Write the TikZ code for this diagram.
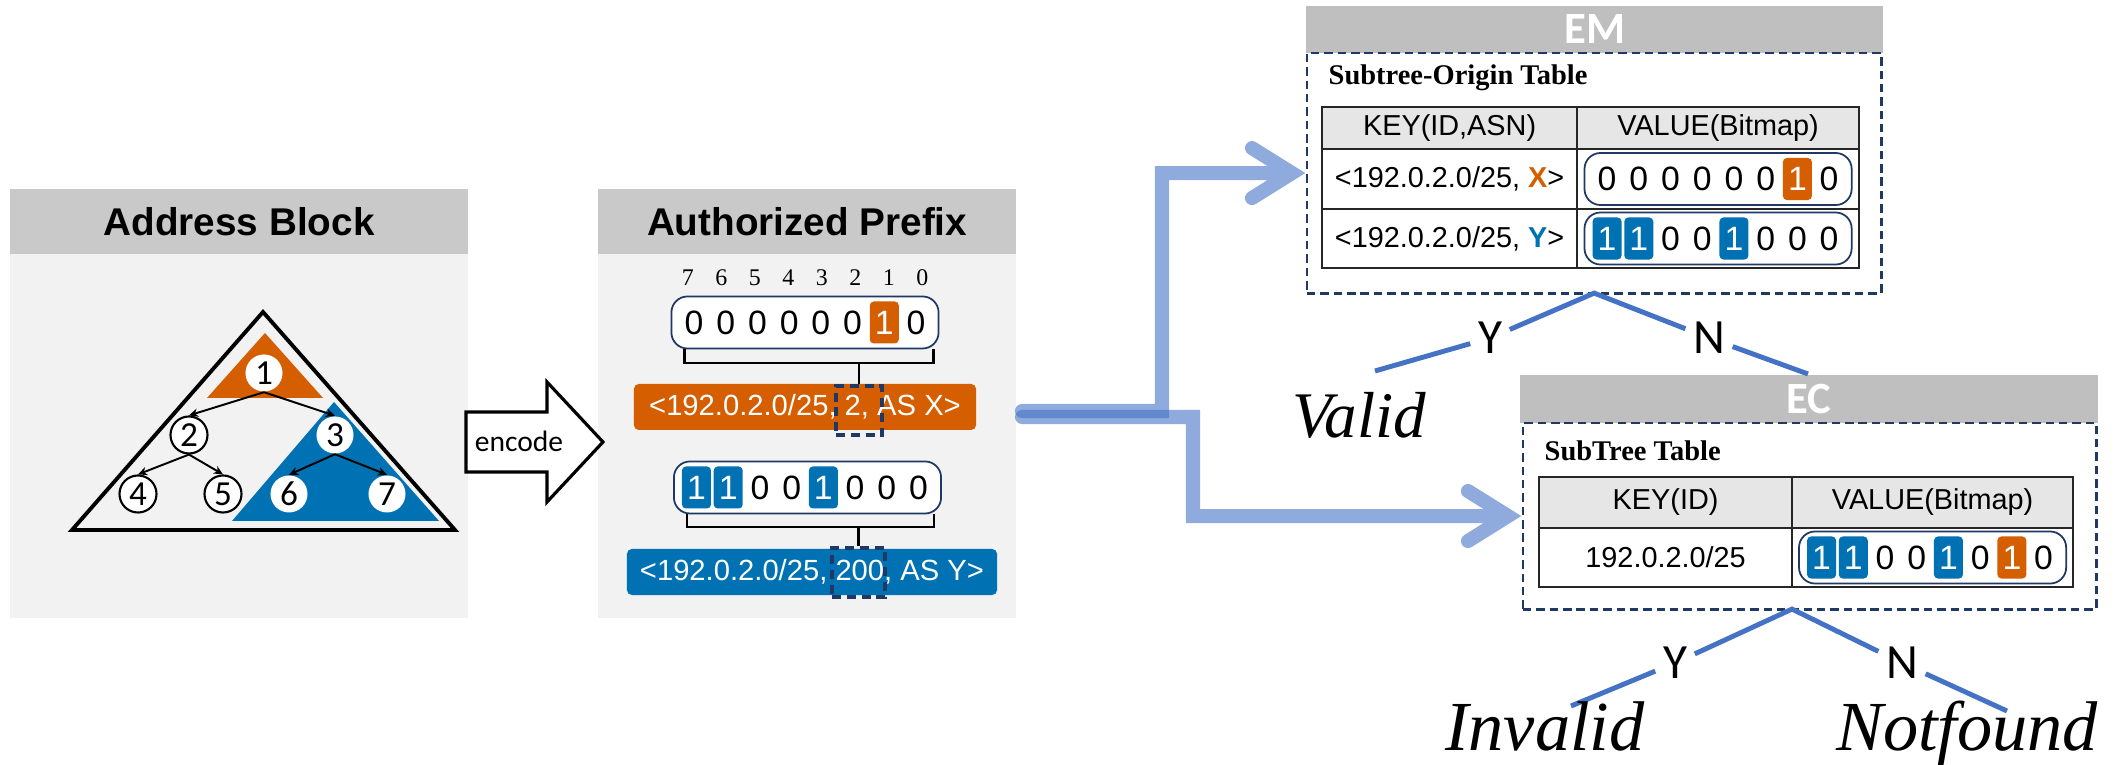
\documentclass[tikz,border=0pt]{standalone}
\usepackage{fontspec}
\setmainfont{Liberation Sans}
\newfontfamily\calfont{Carlito}
\newfontfamily\serfont{Liberation Serif}
\usetikzlibrary{arrows.meta}

\definecolor{vermil}{HTML}{D55E00}
\definecolor{ocean}{HTML}{0071B2}
\definecolor{navy}{HTML}{1F3864}
\definecolor{linkblue}{HTML}{4472C4}
\definecolor{panelgray}{HTML}{F2F2F2}
\definecolor{headgray}{HTML}{C9C9C9}
\definecolor{boxgray}{HTML}{BFBFBF}
\definecolor{cellgray}{HTML}{E6E6E6}

\tikzset{
    panel/.style={fill=panelgray, anchor=north west, inner sep=0pt, outer sep=0pt},
    panelhead/.style={fill=headgray, anchor=north west, inner sep=0pt, outer sep=0pt, font=\bfseries\fontsize{11}{13}\selectfont},
    tablehead/.style={fill=boxgray, anchor=north west, inner sep=0pt, outer sep=0pt, text=white, font=\calfont\bfseries\fontsize{12.7}{14}\selectfont},
    dashbox/.style={draw=navy, line width=0.8pt, dash pattern=on 2.4pt off 1.4pt, anchor=north west, inner sep=0pt, outer sep=0pt},
    tabletitle/.style={anchor=west, inner sep=0pt, font=\serfont\bfseries\fontsize{8.1}{10}\selectfont},
    cell/.style={draw=black!85, line width=0.6pt, anchor=north west, inner sep=0pt, outer sep=0pt, font=\fontsize{8.2}{10}\selectfont},
    headcell/.style={cell, fill=cellgray},
    tnode/.style={circle, fill=white, minimum size=0.37cm, inner sep=0pt, font=\calfont\fontsize{10}{12}\selectfont},
    tnodeb/.style={tnode, draw, line width=0.6pt},
    tedge/.style={-{Stealth[length=2.6pt, width=2.4pt]}, line width=0.55pt},
    bitbox/.style={draw=navy, line width=0.5pt, fill=white, rounded corners=0.16cm, minimum width=2.67cm, minimum height=0.52cm, inner sep=0pt},
    bit/.style={minimum width=0.29cm, minimum height=0.42cm, inner sep=0pt, rounded corners=0.04cm, font=\fontsize{9.6}{11}\selectfont},
    hlblue/.style={fill=ocean, text=white},
    hlorange/.style={fill=vermil, text=white},
    bitidx/.style={inner sep=0pt, font=\serfont\fontsize{6.8}{8}\selectfont},
    keybar/.style={rounded corners=0.05cm, minimum height=0.46cm, inner sep=0pt, text=white, font=\fontsize{8.3}{10}\selectfont},
    pick/.style={draw=navy, line width=0.9pt, dash pattern=on 2.6pt off 1.6pt, inner sep=0pt},
    bracket/.style={line width=0.8pt},
    link/.style={draw=linkblue, draw opacity=0.6, line width=4pt, line cap=round, line join=miter},
    branch/.style={draw=linkblue, line width=1.4pt},
    yn/.style={inner sep=2pt, font=\calfont\fontsize{14}{16}\selectfont},
    verdict/.style={anchor=base, inner sep=0pt, font=\serfont\itshape\fontsize{20}{24}\selectfont},
}

\newcommand{\bitrow}[3]{%
    \node[bitbox] (#1) at (#2) {};
    \foreach \bv [count=\bi from 0] in {#3} {
        \ifcase\bv\relax
            \node[bit, xshift={(\bi-3.5)*0.317cm}] (#1-\bi) at (#2) {0};
        \or
            \node[bit, hlblue, xshift={(\bi-3.5)*0.317cm}] (#1-\bi) at (#2) {1};
        \or
            \node[bit, hlorange, xshift={(\bi-3.5)*0.317cm}] (#1-\bi) at (#2) {1};
        \fi
    }%
}

\begin{document}
\begin{tikzpicture}[x=0.01cm, y=-0.01cm]
            \useasboundingbox (0,0) rectangle (2123,765);

            \node[panel, minimum width=4.58cm, minimum height=4.29cm] (block) at (10,189) {};
            \node[panelhead, minimum width=4.58cm, minimum height=0.65cm] (blockhead) at (10,189) {Address Block};

            \draw[line width=1.1pt] (263,312) -- (72,530) -- (455,530) -- cycle;
            \fill[vermil] (265,333) -- (207,398) -- (323,398) -- cycle;
            \fill[ocean] (334,402) -- (232,521) -- (439,521) -- cycle;

            \node[tnode] (t1) at (264,373) {1};
            \node[tnodeb] (t2) at (189,435) {2};
            \node[tnode] (t3) at (335,435) {3};
            \node[tnodeb] (t4) at (138,494) {4};
            \node[tnodeb] (t5) at (223,494) {5};
            \node[tnode] (t6) at (289,494) {6};
            \node[tnode] (t7) at (387,494) {7};
            \foreach \p/\c in {t1/t2, t1/t3, t2/t4, t2/t5, t3/t6, t3/t7}
                \draw[tedge] (\p.south) -- (\c.north);

            \node[panel, minimum width=4.18cm, minimum height=4.29cm] (prefix) at (598,189) {};
            \node[panelhead, minimum width=4.18cm, minimum height=0.65cm] (prefixhead) at (598,189) {Authorized Prefix};

            \draw[line width=0.9pt, fill=white] (466,412) -- (547,412) -- (547,382) -- (603,442)
                -- (547,502) -- (547,472) -- (466,472) -- cycle;
            \node[font=\calfont\fontsize{8.4}{10}\selectfont] (encode) at (519,441) {encode};

            \foreach \i in {0,...,7}
                \node[bitidx] (idx\i) at ({805+(3.5-\i)*33.5},278) {\i};

            \coordinate (apXc) at (805,322.5);
            \coordinate (apYc) at (807.5,487.5);
            \bitrow{apX}{apXc}{0,0,0,0,0,0,2,0}
            \bitrow{apY}{apYc}{1,1,0,0,1,0,0,0}

            \node[keybar, fill=vermil, minimum width=3.42cm] (barX) at (805,407) {<192.0.2.0/25, 2, AS X>};
            \node[keybar, fill=ocean, minimum width=3.70cm] (barY) at (812,572) {<192.0.2.0/25, 200, AS Y>};
            \node[pick, minimum width=0.46cm, minimum height=0.49cm] (pickX) at (859,410.5) {};
            \node[pick, minimum width=0.53cm, minimum height=0.49cm] (pickY) at (858.5,572.5) {};

            \coordinate (braceX) at (810,363);
            \coordinate (braceY) at (810,527);
            \draw[bracket] ([xshift=0.14cm]apX.south west) |- (braceX) -| ([xshift=-0.06cm]apX.south east);
            \draw[bracket] (braceX -| pickX.north) -- (pickX.north);
            \draw[bracket] ([xshift=0.14cm]apY.south west) |- (braceY) -| ([xshift=-0.08cm]apY.south east);
            \draw[bracket] (braceY -| pickY.north) -- (pickY.north);

            \node[tablehead, minimum width=5.77cm, minimum height=0.47cm] (emhead) at (1306,6) {EM};
            \node[dashbox, minimum width=5.74cm, minimum height=2.40cm] (embox) at (1307,53) {};
            \node[tabletitle] (emtitle) at (1328,78) {Subtree-Origin Table};
            \node[headcell, minimum width=2.55cm, minimum height=0.42cm] (emk0) at (1322,107) {KEY(ID,ASN)};
            \node[headcell, minimum width=2.82cm, minimum height=0.42cm] (emv0) at (1577,107) {VALUE(Bitmap)};
            \node[cell, minimum width=2.55cm, minimum height=0.60cm] (emk1) at (1322,149) {<192.0.2.0/25, \textcolor{vermil}{\bfseries X}>};
            \node[cell, minimum width=2.82cm, minimum height=0.60cm] (emv1) at (1577,149) {};
            \node[cell, minimum width=2.55cm, minimum height=0.59cm] (emk2) at (1322,209) {<192.0.2.0/25, \textcolor{ocean}{\bfseries Y}>};
            \node[cell, minimum width=2.82cm, minimum height=0.59cm] (emv2) at (1577,209) {};
            \bitrow{emX}{emv1.center}{0,0,0,0,0,0,2,0}
            \bitrow{emY}{emv2.center}{1,1,0,0,1,0,0,0}

            \node[tablehead, minimum width=5.78cm, minimum height=0.48cm] (echead) at (1520,375) {EC};
            \node[dashbox, minimum width=5.73cm, minimum height=1.86cm] (ecbox) at (1523,423) {};
            \node[tabletitle] (ectitle) at (1544,451) {SubTree Table};
            \node[headcell, minimum width=2.53cm, minimum height=0.51cm] (eck0) at (1539,477) {KEY(ID)};
            \node[headcell, minimum width=2.81cm, minimum height=0.51cm] (ecv0) at (1792,477) {VALUE(Bitmap)};
            \node[cell, minimum width=2.53cm, minimum height=0.59cm] (eck1) at (1539,528) {192.0.2.0/25};
            \node[cell, minimum width=2.81cm, minimum height=0.59cm] (ecv1) at (1792,528) {};
            \bitrow{ecS}{ecv1.center}{1,1,0,0,1,0,2,0}

            \coordinate (outA) at (1022,411);
            \coordinate (outB) at (1022,417);
            \draw[link] (outA) -- ++(140,0) |- ([xshift=-0.15cm]embox.west) ++(-40,-25) -- ++(40,25) -- ++(-40,25);
            \draw[link] (outB) -- ++(171,0) |- ([xshift=-0.15cm]ecbox.west) ++(-40,-25) -- ++(40,25) -- ++(-40,25);

            \node[yn] (emYes) at (1490,338) {Y};
            \node[yn] (emNo) at (1709,338) {N};
            \coordinate (emYend) at (1375,371);
            \coordinate (emNend) at (1808,374);
            \draw[branch] (emYend) -- (emYes) -- (embox.south) -- (emNo) -- (emNend);

            \node[yn] (ecYes) at (1675,663) {Y};
            \node[yn] (ecNo) at (1902,663) {N};
            \coordinate (ecYend) at (1571,706);
            \coordinate (ecNend) at (2007,711);
            \draw[branch] (ecYend) -- (ecYes) -- (ecv0.west |- ecbox.south) -- (ecNo) -- (ecNend);

            \node[verdict, font=\serfont\itshape\fontsize{18.5}{22}\selectfont] (valid) at (1359,438) {Valid};
            \node[verdict] (invalid) at (1545,751) {Invalid};
            \node[verdict] (notfound) at (1967,751) {Notfound};

        \end{tikzpicture}
\end{document}
